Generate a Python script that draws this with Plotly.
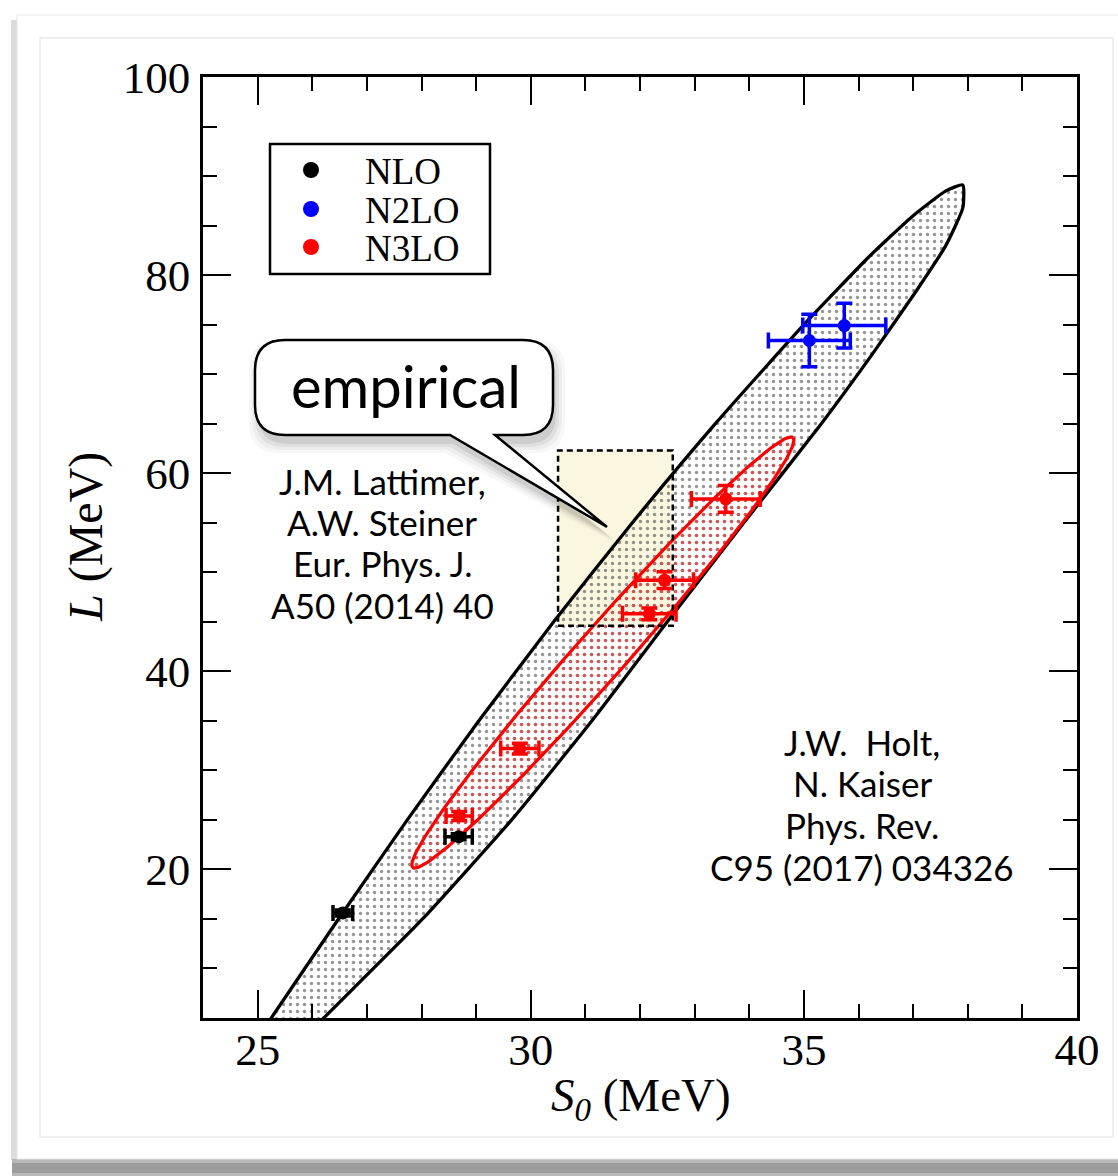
import numpy as np
import plotly.graph_objects as go

# ---------------- data (MeV) ----------------
# symmetry energy S0 and slope L with their uncertainties
nlo_S = [26.56, 28.68]
nlo_L = [15.6, 23.3]
nlo_dS = [0.18, 0.25]
nlo_dL = [0.3, 0.3]

n2lo_S = [35.10, 35.74]
n2lo_L = [73.4, 74.9]
n2lo_dS = [0.75, 0.76]
n2lo_dL = [2.65, 2.27]

n3lo_S = [28.69, 29.80, 32.17, 32.45, 33.57]
n3lo_L = [25.4, 32.2, 45.8, 49.2, 57.4]
n3lo_dS = [0.24, 0.35, 0.49, 0.53, 0.63]
n3lo_dL = [0.45, 0.55, 0.6, 0.85, 1.35]

# S0-L correlation band: upper edge (bottom -> top), then lower edge (top -> bottom)
band_upper_S = [24.88, 25.25, 26.48, 27.74, 29.05, 30.42, 31.86, 33.38, 35.00, 36.22, 37.00, 37.60, 37.91]
band_upper_L = [2.0, 5.0, 15.0, 25.0, 35.0, 45.0, 55.0, 65.0, 75.0, 82.0, 86.0, 88.5, 89.1]
band_lower_S = [37.91, 37.60, 37.07, 36.25, 35.32, 33.90, 32.50, 31.12, 29.65, 28.02, 26.21, 25.68]
band_lower_L = [86.8, 83.0, 78.5, 72.0, 65.0, 55.0, 45.0, 35.0, 25.0, 15.0, 5.0, 2.0]

# N3LO correlation ellipse: centre and two conjugate half-axes
ell_center = (31.32, 41.9)
ell_major = (3.48, 21.7)
ell_minor = (0.34, -1.67)

# empirical range (Lattimer & Steiner)
emp_S = [30.5, 32.6]
emp_L = [44.6, 62.3]

x_ticks = [25, 30, 35, 40]
y_ticks = [20, 40, 60, 80, 100]

legend_names = ["NLO", "N2LO", "N3LO"]
legend_colors = ["black", "blue", "red"]

lattimer_lines = ["J.M. Lattimer,", "A.W. Steiner", "Eur. Phys. J.", "A50 (2014) 40"]
holt_lines = ["J.W.  Holt,", "N. Kaiser", "Phys. Rev.", "C95 (2017) 034326"]

# ---------------- page geometry ----------------
W, H = 1118, 1176
ML, MR, MT, MB = 203, 41, 77, 158
PW, PH = W - ML - MR, H - MT - MB


def px(X):
    """page pixel x -> paper fraction"""
    return (X - ML) / PW


def py(Y):
    """page pixel y -> paper fraction"""
    return (H - MB - Y) / PH


SERIF = "Liberation Serif"
SANS = "Lato"

fig = go.Figure()

# empirical box fill (beneath the hatched bands)
box_x = [emp_S[0], emp_S[1], emp_S[1], emp_S[0], emp_S[0]]
box_y = [emp_L[0], emp_L[0], emp_L[1], emp_L[1], emp_L[0]]
fig.add_trace(go.Scatter(x=box_x, y=box_y, mode="lines", fill="toself",
                         fillcolor="#FAF6E0", line=dict(width=0),
                         hoverinfo="skip", showlegend=False))

# correlation band
band_S = band_upper_S + band_lower_S + band_upper_S[:1]
band_L = band_upper_L + band_lower_L + band_upper_L[:1]
fig.add_trace(go.Scatter(
    x=band_S, y=band_L, mode="lines", fill="toself",
    fillcolor="#2a2a2a",
    fillpattern=dict(shape=".", size=7, solidity=0.18, fgcolor="#2a2a2a",
                     bgcolor="rgba(0,0,0,0)"),
    line=dict(color="black", width=3.3, shape="spline", smoothing=0.5),
    hoverinfo="skip", showlegend=False))

# N3LO ellipse
t = np.linspace(0, 2 * np.pi, 241)
ell_S = ell_center[0] + ell_major[0] * np.cos(t) + ell_minor[0] * np.sin(t)
ell_L = ell_center[1] + ell_major[1] * np.cos(t) + ell_minor[1] * np.sin(t)
fig.add_trace(go.Scatter(
    x=ell_S, y=ell_L, mode="lines", fill="toself",
    fillcolor="red",
    fillpattern=dict(shape=".", size=7, solidity=0.22, fgcolor="#ff2020",
                     bgcolor="rgba(0,0,0,0)"),
    line=dict(color="red", width=3.2),
    hoverinfo="skip", showlegend=False))

# empirical box outline
fig.add_trace(go.Scatter(x=box_x, y=box_y, mode="lines",
                         line=dict(color="black", width=2.5, dash="6px,4px"),
                         hoverinfo="skip", showlegend=False))


def points(S, L, dS, dL, color, name):
    return go.Scatter(
        x=S, y=L, mode="markers", name=name,
        marker=dict(color=color, size=13),
        error_x=dict(type="data", array=dS, color=color, thickness=3.5, width=8),
        error_y=dict(type="data", array=dL, color=color, thickness=3.5, width=8),
        showlegend=False)


fig.add_trace(points(nlo_S, nlo_L, nlo_dS, nlo_dL, "black", "NLO"))
fig.add_trace(points(n2lo_S, n2lo_L, n2lo_dS, n2lo_dL, "blue", "N2LO"))
fig.add_trace(points(n3lo_S, n3lo_L, n3lo_dS, n3lo_dL, "red", "N3LO"))

shapes = []
# photo frame around the figure
shapes.append(dict(type="rect", xref="paper", yref="paper", layer="below",
                   x0=px(11), x1=px(17), y0=py(1160), y1=py(20),
                   fillcolor="#dcdcdc", line=dict(width=0)))
shapes.append(dict(type="rect", xref="paper", yref="paper", layer="below",
                   x0=px(12), x1=px(1130), y0=py(1176), y1=py(1159),
                   fillcolor="#b8b8b8", line=dict(width=0)))
shapes.append(dict(type="rect", xref="paper", yref="paper", layer="below",
                   x0=px(12), x1=px(1130), y0=py(1173), y1=py(1163),
                   fillcolor="#9c9c9c", line=dict(width=0)))
shapes.append(dict(type="rect", xref="paper", yref="paper", layer="below",
                   x0=px(17), x1=px(1130), y0=py(1159), y1=py(15),
                   fillcolor="white", line=dict(color="#e6e6e6", width=1)))
shapes.append(dict(type="rect", xref="paper", yref="paper", layer="below",
                   x0=px(40), x1=px(1113), y0=py(1137), y1=py(38),
                   fillcolor="rgba(0,0,0,0)", line=dict(color="#ececec", width=1.5)))

# legend box and symbols
shapes.append(dict(type="rect", xref="paper", yref="paper", layer="above",
                   x0=px(270), x1=px(490), y0=py(274), y1=py(144),
                   fillcolor="white", line=dict(color="black", width=2.5)))
legend_y = [170, 209, 247]
for c, yy in zip(legend_colors, legend_y):
    shapes.append(dict(type="circle", xref="paper", yref="paper", layer="above",
                       xsizemode="pixel", ysizemode="pixel",
                       xanchor=px(311), yanchor=py(yy),
                       x0=-8, x1=8, y0=-8, y1=8,
                       fillcolor=c, line=dict(width=0)))


# speech bubble with tail
def bubble_path(dx=0.0, dy=0.0, grow=0.0):
    x0, x1, y0, y1 = 255 - grow, 553 + grow, 340 - grow, 435 + grow
    r = 30
    tip = (607, 527)

    def P(X, Y):
        return f"{px(X + dx):.5f},{py(Y + dy):.5f}"

    d = "M" + P(x0 + r, y0)
    d += " L" + P(x1 - r, y0)
    d += " Q" + P(x1, y0) + " " + P(x1, y0 + r)
    d += " L" + P(x1, y1 - r)
    d += " Q" + P(x1, y1) + " " + P(x1 - r, y1)
    d += " L" + P(495 + grow, y1)
    d += " L" + P(tip[0] + grow, tip[1] + grow)
    d += " L" + P(450 - grow, y1)
    d += " L" + P(x0 + r, y1)
    d += " Q" + P(x0, y1) + " " + P(x0, y1 - r)
    d += " L" + P(x0, y0 + r)
    d += " Q" + P(x0, y0) + " " + P(x0 + r, y0)
    d += " Z"
    return d


for g, a in [(9, 0.03), (6, 0.04), (3, 0.06), (0, 0.08)]:
    shapes.append(dict(type="path", xref="paper", yref="paper", layer="above",
                       path=bubble_path(3, 9, g), fillcolor=f"rgba(0,0,0,{a})",
                       line=dict(width=0)))
shapes.append(dict(type="path", xref="paper", yref="paper", layer="above",
                   path=bubble_path(), fillcolor="white",
                   line=dict(color="black", width=2.5)))

annotations = []
for name, yy in zip(legend_names, legend_y):
    annotations.append(dict(xref="paper", yref="paper", x=px(363), y=py(yy + 1),
                            xanchor="left", yanchor="middle", text=name,
                            showarrow=False, font=dict(family=SERIF, size=37, color="black")))

annotations.append(dict(xref="paper", yref="paper", x=px(406), y=py(385),
                        xanchor="center", yanchor="middle", text="empirical",
                        showarrow=False, font=dict(family=SANS, size=58, color="black")))

for line, yy in zip(lattimer_lines, [481, 522, 563, 605]):
    annotations.append(dict(xref="paper", yref="paper", x=px(382), y=py(yy),
                            xanchor="center", yanchor="middle", text=line,
                            showarrow=False, font=dict(family=SANS, size=35, color="black")))
for line, yy in zip(holt_lines, [742, 783, 825, 867]):
    annotations.append(dict(xref="paper", yref="paper", x=px(862), y=py(yy),
                            xanchor="center", yanchor="middle", text=line,
                            showarrow=False, font=dict(family=SANS, size=35, color="black")))

# axis titles
annotations.append(dict(xref="paper", yref="paper", x=px(641), y=py(1098),
                        xanchor="center", yanchor="middle",
                        text="<i>S</i><sub><i>0</i></sub> (MeV)", showarrow=False,
                        font=dict(family=SERIF, size=47, color="black")))
annotations.append(dict(xref="paper", yref="paper", x=px(86), y=py(537),
                        xanchor="center", yanchor="middle", textangle=-90,
                        text="<i>L</i> (MeV)", showarrow=False,
                        font=dict(family=SERIF, size=48, color="black")))

axis_common = dict(
    showline=True, linecolor="black", linewidth=2.5, mirror="ticks",
    ticks="inside", ticklen=28, tickwidth=2, tickcolor="black",
    showgrid=False, zeroline=False,
    tickfont=dict(family=SERIF, size=45, color="black"),
)

fig.update_layout(
    width=W, height=H,
    margin=dict(l=ML, r=MR, t=MT, b=MB),
    paper_bgcolor="white", plot_bgcolor="rgba(0,0,0,0)",
    showlegend=False,
    xaxis=dict(range=[24, 40], tickmode="array", tickvals=x_ticks,
               ticktext=[str(v) for v in x_ticks],
               minor=dict(dtick=1, tick0=24, ticks="inside", ticklen=14,
                          tickwidth=2, tickcolor="black"),
               ticklabelstandoff=-10,
               **axis_common),
    yaxis=dict(range=[5, 100], tickmode="array", tickvals=y_ticks,
               ticktext=[str(v) for v in y_ticks],
               minor=dict(dtick=5, tick0=0, ticks="inside", ticklen=14,
                          tickwidth=2, tickcolor="black"),
               ticklabelstandoff=1,
               **axis_common),
    shapes=shapes,
    annotations=annotations,
)

fig.write_html("out.html")
